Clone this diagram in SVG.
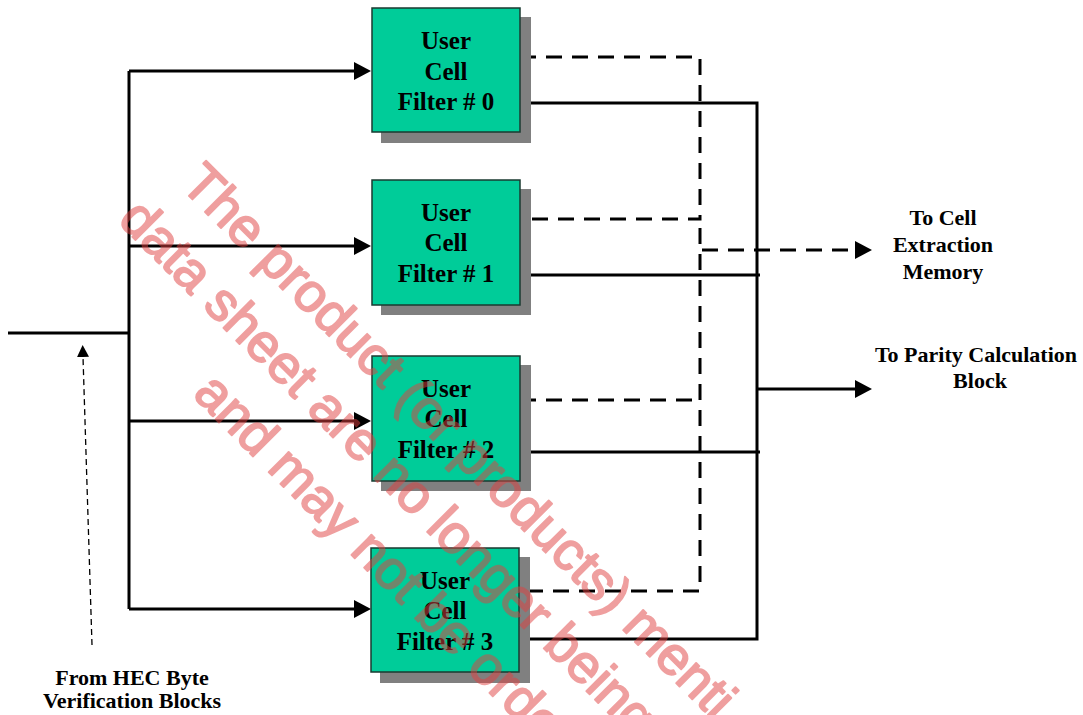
<svg xmlns="http://www.w3.org/2000/svg" width="1083" height="715" viewBox="0 0 1083 715">
<defs>
<style>
.box{fill:#00CC99;stroke:#1a3a30;stroke-width:1.5}
.shadow{fill:#808080}
.bt{font-family:"Liberation Serif","Times New Roman",serif;font-weight:bold;font-size:25px;fill:#000;text-anchor:middle}
.lbl{font-family:"Liberation Serif","Times New Roman",serif;font-weight:bold;font-size:22px;fill:#000;text-anchor:middle}
.sol{fill:none;stroke:#000;stroke-width:3}
.dsh{fill:none;stroke:#000;stroke-width:3;stroke-dasharray:16 10}
.thin{fill:none;stroke:#000;stroke-width:1.3;stroke-dasharray:6 4}
.wm{font-family:"Liberation Sans",Arial,sans-serif;font-size:54px;fill:#E14141;stroke:#E14141;stroke-width:1.8;stroke-linejoin:round}
</style>
<marker id="ah" markerWidth="18" markerHeight="18" refX="0" refY="9" orient="auto" markerUnits="userSpaceOnUse"><path d="M0,0 L17,9 L0,18 z" fill="#000"/></marker>
<marker id="ahs" markerWidth="12" markerHeight="12" refX="0" refY="6" orient="auto" markerUnits="userSpaceOnUse"><path d="M0,0 L12,6 L0,12 z" fill="#000"/></marker>
</defs>
<rect width="1083" height="715" fill="#fff"/>

<g id="connectors">
<path class="sol" d="M8,333 H129"/>
<path class="sol" d="M129,71 V609"/>
<path class="sol" d="M129,71 H354" marker-end="url(#ah)"/>
<path class="sol" d="M129,246 H354" marker-end="url(#ah)"/>
<path class="sol" d="M129,421 H354" marker-end="url(#ah)"/>
<path class="sol" d="M129,609 H354" marker-end="url(#ah)"/>
<path class="dsh" d="M520,57 H700 V219 H520"/>
<path class="dsh" d="M700,228 V591 H520"/>
<path class="dsh" d="M520,400 H700"/>
<path class="dsh" d="M702,250 H855" marker-end="url(#ah)"/>
<path class="sol" d="M520,103 H757 V639 H520"/>
<path class="sol" d="M520,275 H760"/>
<path class="sol" d="M520,452 H760"/>
<path class="sol" d="M757,389 H855" marker-end="url(#ah)"/>
<path class="thin" d="M92,645 L83,357" marker-end="url(#ahs)"/>
</g>

<g id="filter0">
<rect class="shadow" x="381" y="17" width="150" height="126"/>
<rect class="box" x="372" y="8" width="148" height="124"/>
<text class="bt" x="446" y="49">User</text>
<text class="bt" x="446" y="80">Cell</text>
<text class="bt" x="446" y="110">Filter # 0</text>
</g>
<g id="filter1">
<rect class="shadow" x="381" y="189" width="150" height="126"/>
<rect class="box" x="372" y="180" width="148" height="125"/>
<text class="bt" x="446" y="221">User</text>
<text class="bt" x="446" y="251">Cell</text>
<text class="bt" x="446" y="282">Filter # 1</text>
</g>
<g id="filter2">
<rect class="shadow" x="381" y="365" width="150" height="126"/>
<rect class="box" x="372" y="356" width="148" height="125"/>
<text class="bt" x="446" y="397">User</text>
<text class="bt" x="446" y="427">Cell</text>
<text class="bt" x="446" y="458">Filter # 2</text>
</g>
<g id="filter3">
<rect class="shadow" x="380" y="557" width="150" height="126"/>
<rect class="box" x="371" y="548" width="148" height="124"/>
<text class="bt" x="445" y="589">User</text>
<text class="bt" x="445" y="619">Cell</text>
<text class="bt" x="445" y="650">Filter # 3</text>
</g>

<g id="label-memory">
<text class="lbl" x="943" y="225">To Cell</text>
<text class="lbl" x="943" y="252">Extraction</text>
<text class="lbl" x="943" y="279">Memory</text>
</g>
<g id="label-parity">
<text class="lbl" x="976" y="362">To Parity Calculation</text>
<text class="lbl" x="980" y="388">Block</text>
</g>
<g id="label-hec">
<text class="lbl" x="132" y="685">From HEC Byte</text>
<text class="lbl" x="132" y="708">Verification Blocks</text>
</g>

<g id="watermark" opacity="0.5" transform="translate(179,186) rotate(45)">
<text class="wm" x="0" y="0">The product (or products) menti</text>
<text class="wm" x="-19" y="69">data sheet are no longer being</text>
<text class="wm" x="157" y="139">and may not be orde</text>
</g>
</svg>
